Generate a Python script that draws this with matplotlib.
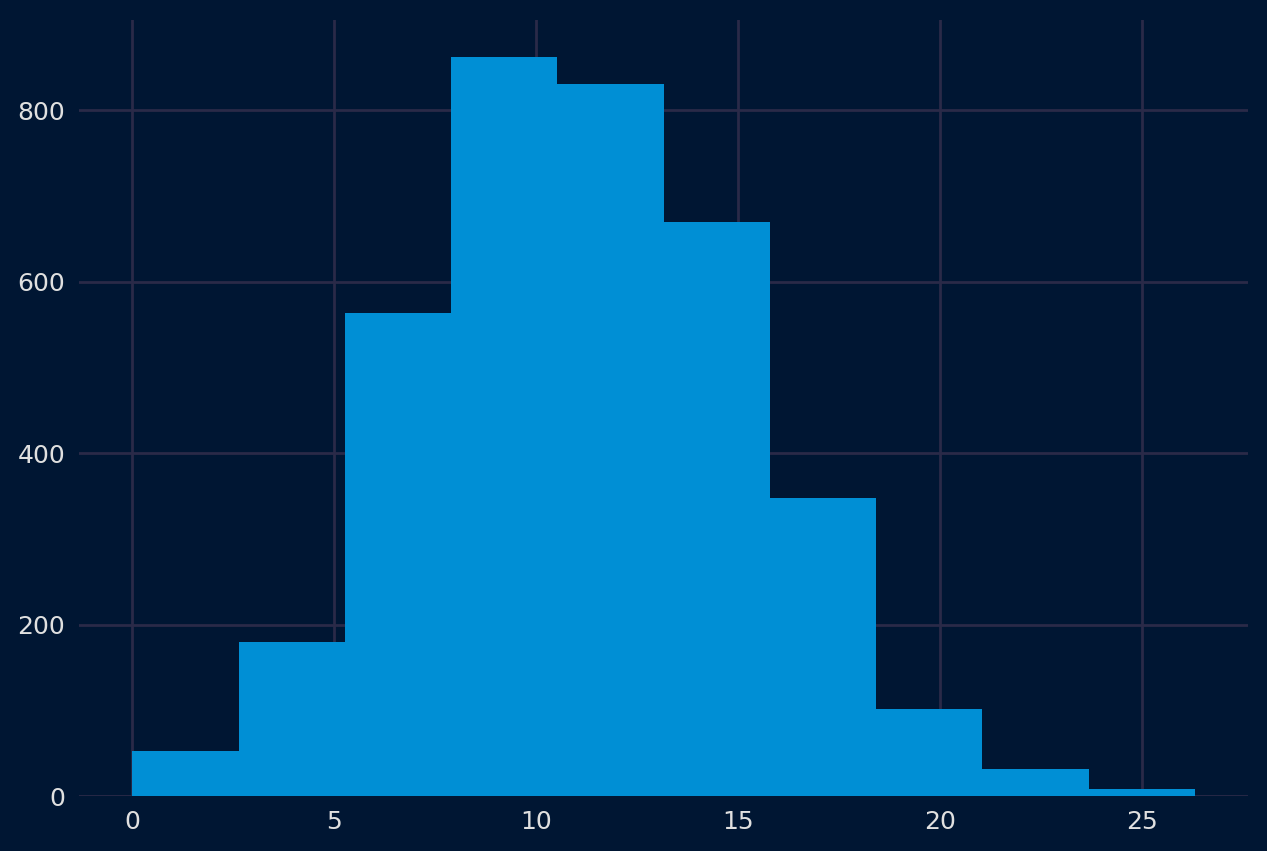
import numpy as np
import matplotlib.pyplot as plt

# histogram bins
bin_edges = [0.0, 2.63, 5.26, 7.89, 10.52, 13.15, 15.78, 18.41, 21.04, 23.67, 26.3]
counts = [52, 180, 563, 862, 830, 669, 347, 101, 31, 8]

bg = "#001633"
bar_color = "#008fd5"
grid_color = "#2a2a48"
text_color = "#e0e0e0"

fig = plt.figure(figsize=(12.67, 8.51), dpi=100, facecolor=bg)
ax = fig.add_axes([0.0625, 0.0646, 0.9225, 0.912])
ax.set_facecolor(bg)

ax.hist(bin_edges[:-1], bins=bin_edges, weights=counts, color=bar_color, zorder=2)

ax.set_xticks([0, 5, 10, 15, 20, 25])
ax.set_yticks([0, 200, 400, 600, 800])
ax.grid(True, color=grid_color, linewidth=2, zorder=0)
ax.set_axisbelow(True)
for s in ax.spines.values():
    s.set_visible(False)
ax.tick_params(length=0, labelsize=18, colors=text_color, pad=10)

fig.savefig("out.png", facecolor=bg)
